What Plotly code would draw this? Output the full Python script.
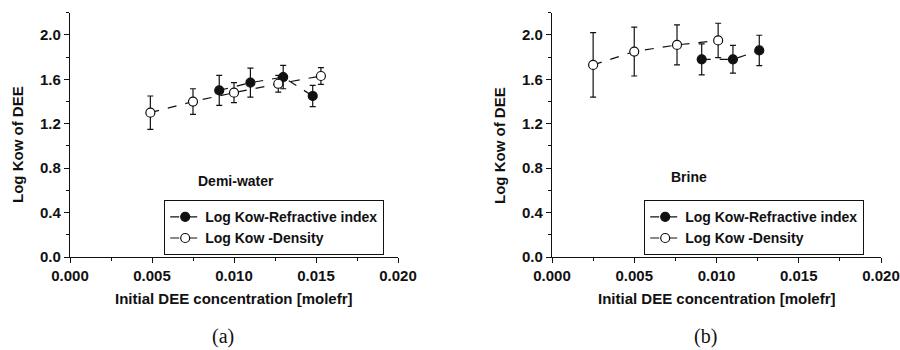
import plotly.graph_objects as go

# Demi-water panel
demi_ri_x = [0.0091, 0.0110, 0.0130, 0.0148]
demi_ri_y = [1.50, 1.57, 1.62, 1.45]
demi_ri_err = [0.135, 0.13, 0.105, 0.095]

demi_den_x = [0.0049, 0.0075, 0.0100, 0.0127, 0.0153]
demi_den_y = [1.30, 1.40, 1.48, 1.56, 1.63]
demi_den_err = [0.15, 0.115, 0.09, 0.075, 0.075]

# Brine panel
brine_ri_x = [0.0091, 0.0110, 0.0126]
brine_ri_y = [1.78, 1.78, 1.86]
brine_ri_err = [0.14, 0.125, 0.137]

brine_den_x = [0.0025, 0.0050, 0.0076, 0.0101]
brine_den_y = [1.73, 1.85, 1.91, 1.95]
brine_den_err = [0.29, 0.22, 0.18, 0.155]

series_names = ["Log Kow-Refractive index", "Log Kow -Density"]
panel_labels = ["Demi-water", "Brine"]
captions = ["(a)", "(b)"]
x_title = "Initial DEE concentration [molefr]"
y_title = "Log Kow of DEE"

FONT = "Arial, Liberation Sans, sans-serif"
INK = "#111111"

fig = go.Figure()


def add_series(x, y, err, name, filled, xa, ya, legend):
    fig.add_trace(go.Scatter(
        x=x, y=y, name=name, mode="lines+markers",
        xaxis=xa, yaxis=ya, legend=legend,
        line=dict(color=INK, width=1.2, dash="dash"),
        marker=dict(symbol="circle", size=9,
                    color=INK if filled else "white",
                    line=dict(color=INK, width=1.2)),
        error_y=dict(type="data", array=err, symmetric=True,
                     color=INK, thickness=1.2, width=3),
    ))


add_series(demi_ri_x, demi_ri_y, demi_ri_err, series_names[0], True, "x", "y", "legend")
add_series(demi_den_x, demi_den_y, demi_den_err, series_names[1], False, "x", "y", "legend")
add_series(brine_ri_x, brine_ri_y, brine_ri_err, series_names[0], True, "x2", "y2", "legend2")
add_series(brine_den_x, brine_den_y, brine_den_err, series_names[1], False, "x2", "y2", "legend2")

tickfont = dict(family=FONT, size=15, color=INK, weight="bold")

xcommon = dict(
    range=[0, 0.020], tickvals=[0, 0.005, 0.010, 0.015, 0.020],
    ticktext=["0.000", "0.005", "0.010", "0.015", "0.020"],
    showline=True, linecolor=INK, linewidth=1.2, mirror=False,
    ticks="outside", ticklen=5, tickwidth=1.2, tickcolor=INK,
    minor=dict(ticks="outside", ticklen=3, tickwidth=1, tickcolor=INK, dtick=0.0025, tick0=0),
    showgrid=False, zeroline=False, tickfont=tickfont, fixedrange=True,
    automargin=False,
)
ycommon = dict(
    range=[0, 2.2], tickvals=[0, 0.4, 0.8, 1.2, 1.6, 2.0],
    ticktext=["0.0", "0.4", "0.8", "1.2", "1.6", "2.0"],
    showline=True, linecolor=INK, linewidth=1.2, mirror=False,
    ticks="outside", ticklen=5, tickwidth=1.2, tickcolor=INK,
    minor=dict(ticks="outside", ticklen=3, tickwidth=1, tickcolor=INK, dtick=0.2, tick0=0),
    showgrid=False, zeroline=False, tickfont=tickfont, fixedrange=True,
    automargin=False,
)

y_dom = [(350 - 257) / 350, (350 - 12.7) / 350]
x1_dom = [70 / 900, 398 / 900]
x2_dom = [552 / 900, 881 / 900]

legend_style = dict(
    font=dict(family=FONT, size=14, color=INK, weight="bold"),
    bgcolor="white", bordercolor=INK, borderwidth=1.2,
    xanchor="left", yanchor="bottom", tracegroupgap=0, itemwidth=30,
)

fig.update_layout(
    width=900, height=350,
    margin=dict(l=0, r=0, t=0, b=0),
    paper_bgcolor="white", plot_bgcolor="white",
    xaxis=dict(domain=x1_dom, anchor="y", **xcommon),
    yaxis=dict(domain=y_dom, anchor="x", **ycommon),
    xaxis2=dict(domain=x2_dom, anchor="y2", **xcommon),
    yaxis2=dict(domain=y_dom, anchor="x2", **ycommon),
    legend=dict(x=164 / 900, y=(350 - 255) / 350, **legend_style),
    legend2=dict(x=644 / 900, y=(350 - 255) / 350, **legend_style),
)

label_font = dict(family=FONT, size=14, color=INK, weight="bold")
title_font = dict(family=FONT, size=15, color=INK, weight="bold")
caption_font = dict(family="Liberation Serif, DejaVu Serif, serif", size=20, color=INK)

# panel labels inside the plot areas
fig.add_annotation(x=0.0101, y=0.68, xref="x", yref="y", text=panel_labels[0],
                   showarrow=False, font=label_font)
fig.add_annotation(x=0.0083, y=0.72, xref="x2", yref="y2", text=panel_labels[1],
                   showarrow=False, font=label_font)

for dom, cap in zip([x1_dom, x2_dom], captions):
    cx = (dom[0] + dom[1]) / 2
    # x-axis title
    fig.add_annotation(x=cx, y=(350 - 298) / 350, xref="paper", yref="paper",
                       text=x_title, showarrow=False, font=title_font,
                       xanchor="center", yanchor="middle")
    # y-axis title
    fig.add_annotation(x=dom[0] - 53 / 900, y=(350 - 145) / 350,
                       xref="paper", yref="paper", text=y_title, textangle=-90,
                       showarrow=False, font=title_font,
                       xanchor="center", yanchor="middle")
    # sub-figure caption
    fig.add_annotation(x=cx - 11 / 900, y=(350 - 336) / 350, xref="paper", yref="paper",
                       text=cap, showarrow=False, font=caption_font,
                       xanchor="center", yanchor="middle")

fig.write_html("out.html")
